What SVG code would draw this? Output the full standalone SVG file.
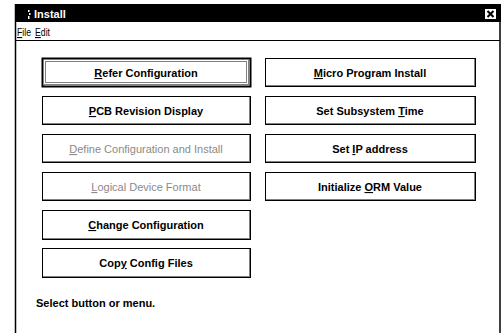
<svg xmlns="http://www.w3.org/2000/svg" width="504" height="333" viewBox="0 0 504 333">
<style>
.btn{fill:#fff;stroke:#000;stroke-width:1}
.sh{stroke:#808080;stroke-width:1;fill:none}
.lbl{font-family:"Liberation Sans",Arial,sans-serif;font-size:11px;font-weight:bold;fill:#000;text-anchor:middle}
.dis{fill:#8a8a8a;font-weight:normal}
.menu{font-family:"Liberation Sans",Arial,sans-serif;font-size:11px;fill:#000}
.u{text-decoration:underline}
</style>
<rect x="0" y="0" width="504" height="333" fill="#fff"/>
<g id="window">
<rect x="15" y="4" width="486" height="18" fill="#000"/>
<rect x="28" y="10" width="1.5" height="2" fill="#fff"/>
<rect x="29" y="13" width="1.5" height="2" fill="#fff"/>
<rect x="28" y="16" width="1.5" height="3" fill="#fff"/>
<text x="34" y="18" font-family="Liberation Sans,Arial,sans-serif" font-size="11" font-weight="bold" fill="#fff">Install</text>
<rect x="484.5" y="8.5" width="12" height="11" fill="#fff" stroke="#000" stroke-width="1"/>
<path d="M487.5 11 L493.5 17 M493.5 11 L487.5 17" stroke="#000" stroke-width="2"/>
<line x1="15.5" y1="4" x2="15.5" y2="333" stroke="#000" stroke-width="1.5"/>
<line x1="500" y1="4" x2="500" y2="333" stroke="#000" stroke-width="1.5"/>
<line x1="15" y1="40.5" x2="500" y2="40.5" stroke="#000" stroke-width="1"/>
<text class="menu" x="17" y="36" textLength="14" lengthAdjust="spacingAndGlyphs"><tspan class="u">F</tspan>ile</text>
<text class="menu" x="35" y="36" textLength="15" lengthAdjust="spacingAndGlyphs"><tspan class="u">E</tspan>dit</text>
<text x="36" y="307" font-family="Liberation Sans,Arial,sans-serif" font-size="11" font-weight="bold" fill="#000">Select button or menu.</text>
</g>
<g id="btn-refer">
<rect x="42.5" y="58.5" width="208" height="28" fill="#fff" stroke="#000" stroke-width="2"/>
<path class="sh" d="M248.5 60 V85 M44 84.5 H249"/>
<rect x="45.5" y="61.5" width="201" height="21" fill="none" stroke="#000" stroke-width="1" stroke-dasharray="1,1"/>
<text class="lbl" x="146" y="77"><tspan class="u">R</tspan>efer Configuration</text>
</g>
<g id="btn-pcb">
<rect class="btn" x="42.5" y="96.5" width="208" height="28"/>
<path class="sh" d="M249.5 97 V124 M43 123.5 H250"/>
<text class="lbl" x="146" y="115"><tspan class="u">P</tspan>CB Revision Display</text>
</g>
<g id="btn-define">
<rect class="btn" x="42.5" y="134.5" width="208" height="28"/>
<path class="sh" d="M249.5 135 V162 M43 161.5 H250"/>
<text class="lbl dis" x="146" y="153"><tspan class="u">D</tspan>efine Configuration and Install</text>
</g>
<g id="btn-logical">
<rect class="btn" x="42.5" y="172.5" width="208" height="28"/>
<path class="sh" d="M249.5 173 V200 M43 199.5 H250"/>
<text class="lbl dis" x="146" y="191"><tspan class="u">L</tspan>ogical Device Format</text>
</g>
<g id="btn-change">
<rect class="btn" x="42.5" y="210.5" width="208" height="29"/>
<path class="sh" d="M249.5 211 V239 M43 238.5 H250"/>
<text class="lbl" x="146" y="229"><tspan class="u">C</tspan>hange Configuration</text>
</g>
<g id="btn-copy">
<rect class="btn" x="42.5" y="248.5" width="208" height="29"/>
<path class="sh" d="M249.5 249 V277 M43 276.5 H250"/>
<text class="lbl" x="146" y="267">Cop<tspan class="u">y</tspan> Config Files</text>
</g>
<g id="btn-micro">
<rect class="btn" x="265.5" y="58.5" width="210" height="28"/>
<path class="sh" d="M474.5 59 V86 M266 85.5 H475"/>
<text class="lbl" x="370" y="77"><tspan class="u">M</tspan>icro Program Install</text>
</g>
<g id="btn-time">
<rect class="btn" x="265.5" y="96.5" width="210" height="28"/>
<path class="sh" d="M474.5 97 V124 M266 123.5 H475"/>
<text class="lbl" x="370" y="115">Set Subsystem <tspan class="u">T</tspan>ime</text>
</g>
<g id="btn-ip">
<rect class="btn" x="265.5" y="134.5" width="210" height="28"/>
<path class="sh" d="M474.5 135 V162 M266 161.5 H475"/>
<text class="lbl" x="370" y="153">Set <tspan class="u">I</tspan>P address</text>
</g>
<g id="btn-orm">
<rect class="btn" x="265.5" y="172.5" width="210" height="28"/>
<path class="sh" d="M474.5 173 V200 M266 199.5 H475"/>
<text class="lbl" x="370" y="191">Initialize <tspan class="u">O</tspan>RM Value</text>
</g>
<g id="connectors"/>
</svg>
